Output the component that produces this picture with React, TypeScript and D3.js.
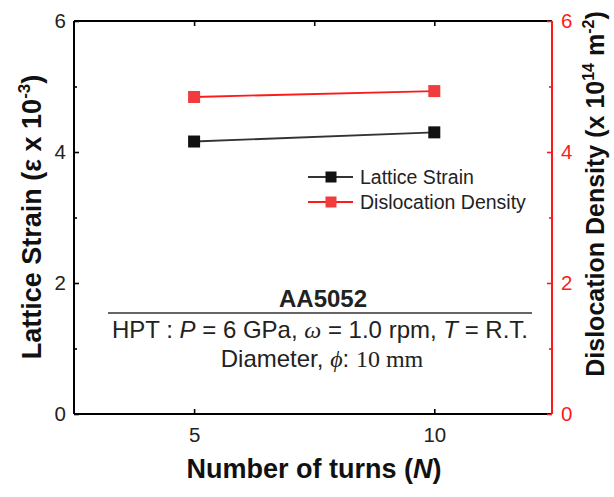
import React, { useEffect, useRef } from 'react';
import * as d3 from 'd3';

// data
const turns = [5, 10];
const latticeStrain = [4.16, 4.3];
const dislocationDensity = [4.84, 4.93];
const xTicks = [5, 10];
const xTopTicks = [5, 7.5, 10];
const yTicks = [0, 2, 4, 6];
const yMinorTicks = [1, 3, 5];
const legendLabels = ['Lattice Strain', 'Dislocation Density'];

const W = 614;
const H = 497;
const margin = { top: 21, right: 62, bottom: 83, left: 74 };
const RED = '#ff1a1a';
const FONT = 'Liberation Sans, Arial, sans-serif';
const SERIF = 'Liberation Serif, Times New Roman, serif';

export default function App() {
  const ref = useRef<SVGSVGElement>(null);

  useEffect(() => {
    const svg = d3.select(ref.current);
    svg.selectAll('*').remove();
    const innerW = W - margin.left - margin.right;
    const innerH = H - margin.top - margin.bottom;

    const x = d3.scaleLinear().domain([2.5, 12.45]).range([0, innerW]);
    const y = d3.scaleLinear().domain([0, 6]).range([innerH, 0]);
    const y2 = d3.scaleLinear().domain([0, 6]).range([innerH, 0]);

    const g = svg.append('g').attr('transform', `translate(${margin.left},${margin.top})`);

    // frame
    g.append('line').attr('x1', 0).attr('x2', innerW).attr('y1', 0).attr('y2', 0).attr('stroke', '#000').attr('stroke-width', 2);
    g.append('line').attr('x1', 0).attr('x2', innerW).attr('y1', innerH).attr('y2', innerH).attr('stroke', '#000').attr('stroke-width', 2);
    g.append('line').attr('x1', 0).attr('x2', 0).attr('y1', 0).attr('y2', innerH).attr('stroke', '#000').attr('stroke-width', 2);
    g.append('line').attr('x1', innerW).attr('x2', innerW).attr('y1', 0).attr('y2', innerH).attr('stroke', RED).attr('stroke-width', 2);

    // bottom axis
    const xb = g.append('g').attr('transform', `translate(0,${innerH})`)
      .call(d3.axisBottom(x).tickValues(xTicks).tickSize(-5).tickFormat(d3.format('d')));
    xb.select('.domain').remove();
    xb.selectAll('line').attr('stroke', '#000').attr('stroke-width', 1.6);
    xb.selectAll('text').attr('font-family', FONT).attr('font-size', 20.5).attr('fill', '#222').attr('dy', 0).attr('y', 28);

    // top ticks
    const xt = g.append('g').call(d3.axisTop(x).tickValues(xTopTicks).tickSize(-5).tickFormat(() => ''));
    xt.select('.domain').remove();
    xt.selectAll('line').attr('stroke', '#000').attr('stroke-width', 1.6);

    // left axis
    const yl = g.append('g').call(d3.axisLeft(y).tickValues(yTicks).tickSize(-5).tickPadding(8).tickFormat(d3.format('d')));
    yl.select('.domain').remove();
    yl.selectAll('line').attr('stroke', '#000').attr('stroke-width', 1.6);
    yl.selectAll('text').attr('font-family', FONT).attr('font-size', 20.5).attr('fill', '#222');
    const ylm = g.append('g').call(d3.axisLeft(y).tickValues(yMinorTicks).tickSize(-3).tickFormat(() => ''));
    ylm.select('.domain').remove();
    ylm.selectAll('line').attr('stroke', '#000').attr('stroke-width', 1.6);

    // right axis (red)
    const yr = g.append('g').attr('transform', `translate(${innerW},0)`)
      .call(d3.axisRight(y2).tickValues(yTicks).tickSize(-5).tickPadding(9).tickFormat(d3.format('d')));
    yr.select('.domain').remove();
    yr.selectAll('line').attr('stroke', RED).attr('stroke-width', 1.6);
    yr.selectAll('text').attr('font-family', FONT).attr('font-size', 20.5).attr('fill', RED);
    const yrm = g.append('g').attr('transform', `translate(${innerW},0)`)
      .call(d3.axisRight(y2).tickValues(yMinorTicks).tickSize(-3).tickFormat(() => ''));
    yrm.select('.domain').remove();
    yrm.selectAll('line').attr('stroke', RED).attr('stroke-width', 1.6);

    // series
    const series = [
      { vals: latticeStrain, color: '#111', scale: y, line: '#333' },
      { vals: dislocationDensity, color: '#f03c3c', scale: y2, line: RED },
    ];
    series.forEach(s => {
      const pts = turns.map((t, i) => [t, s.vals[i]] as [number, number]);
      const line = d3.line<[number, number]>().x(d => x(d[0])).y(d => s.scale(d[1]));
      g.append('path').datum(pts).attr('fill', 'none').attr('stroke', s.line).attr('stroke-width', 1.8).attr('d', line);
      g.selectAll(null).data(pts).enter().append('rect')
        .attr('x', d => x(d[0]) - 6).attr('y', d => s.scale(d[1]) - 6)
        .attr('width', 12).attr('height', 12).attr('fill', s.color);
    });

    // legend
    const legend = svg.append('g').attr('transform', 'translate(308,177)');
    legendLabels.forEach((lab, i) => {
      const s = series[i];
      const row = legend.append('g').attr('transform', `translate(0,${i * 25})`);
      row.append('line').attr('x1', 0).attr('x2', 45).attr('y1', 0).attr('y2', 0).attr('stroke', s.line).attr('stroke-width', 2);
      row.append('rect').attr('x', 17.5).attr('y', -5.5).attr('width', 11).attr('height', 11).attr('fill', s.color);
      row.append('text').attr('x', 52).attr('y', 0).attr('dy', '0.35em').attr('font-family', FONT).attr('font-size', 19.5).attr('fill', '#222').text(lab);
    });

    // annotation
    const cx = 320;
    svg.append('text').attr('x', 323).attr('y', 307).attr('text-anchor', 'middle').attr('font-family', FONT)
      .attr('font-size', 24).attr('font-weight', 'bold').attr('fill', '#222').text('AA5052');
    svg.append('line').attr('x1', 108).attr('x2', 532).attr('y1', 313).attr('y2', 313).attr('stroke', '#666').attr('stroke-width', 2);
    const t1 = svg.append('text').attr('x', cx).attr('y', 338).attr('text-anchor', 'middle').attr('font-family', FONT)
      .attr('font-size', 24).attr('fill', '#222');
    t1.append('tspan').text('HPT : ');
    t1.append('tspan').attr('font-style', 'italic').text('P');
    t1.append('tspan').text(' = 6 GPa, ');
    t1.append('tspan').attr('font-style', 'italic').attr('font-family', SERIF).text('ω');
    t1.append('tspan').text(' = 1.0 rpm, ');
    t1.append('tspan').attr('font-style', 'italic').text('T');
    t1.append('tspan').text(' = R.T.');
    const t2 = svg.append('text').attr('x', 322).attr('y', 367).attr('text-anchor', 'middle').attr('font-family', FONT)
      .attr('font-size', 24).attr('fill', '#222');
    t2.append('tspan').text('Diameter, ');
    t2.append('tspan').attr('font-style', 'italic').attr('font-family', SERIF).text('ϕ');
    t2.append('tspan').text(': ');
    t2.append('tspan').attr('font-family', SERIF).text('10 mm');

    // axis titles
    const xt2 = svg.append('text').attr('x', 314).attr('y', 478).attr('text-anchor', 'middle').attr('font-family', FONT)
      .attr('font-size', 27).attr('font-weight', 'bold').attr('fill', '#111');
    xt2.append('tspan').text('Number of turns (');
    xt2.append('tspan').attr('font-style', 'italic').text('N');
    xt2.append('tspan').text(')');

    const yt = svg.append('text').attr('transform', 'translate(41,217) rotate(-90)')
      .attr('text-anchor', 'middle').attr('font-family', FONT).attr('font-size', 27).attr('font-weight', 'bold').attr('fill', '#111');
    yt.append('tspan').text('Lattice Strain (ε x 10');
    yt.append('tspan').attr('font-size', 17).attr('dy', -11).text('-3');
    yt.append('tspan').attr('dy', 11).text(')');

    const yt2 = svg.append('text').attr('transform', 'translate(604,194) rotate(-90)')
      .attr('text-anchor', 'middle').attr('font-family', FONT).attr('font-size', 25).attr('font-weight', 'bold').attr('fill', '#111');
    yt2.append('tspan').text('Dislocation Density (x 10');
    yt2.append('tspan').attr('font-size', 16).attr('dy', -10).text('14');
    yt2.append('tspan').attr('dy', 10).text(' m');
    yt2.append('tspan').attr('font-size', 16).attr('dy', -10).text('-2');
    yt2.append('tspan').attr('dy', 10).text(')');
  }, []);

  return <svg ref={ref} width={W} height={H} style={{ position: 'absolute', left: 0, top: 0, background: '#fff' }} />;
}
